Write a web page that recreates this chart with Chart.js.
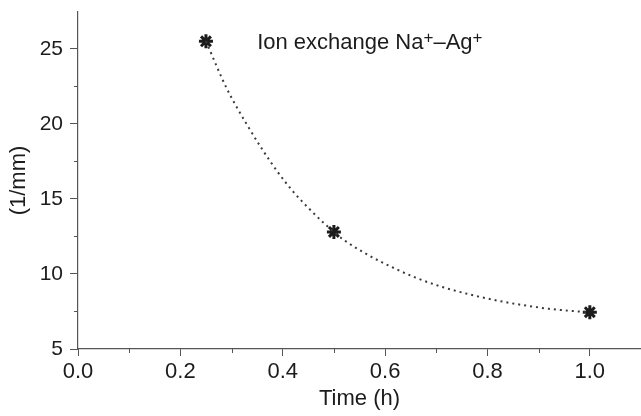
<!DOCTYPE html>
<html>
<head>
<meta charset="utf-8">
<script src="https://cdn.jsdelivr.net/npm/chart.js@4.4.1/dist/chart.umd.min.js"></script>
<style>
  html, body { margin: 0; padding: 0; background: #fff; }
  #wrap { width: 641px; height: 416px; }
</style>
</head>
<body>
<div id="wrap"><canvas id="chart" width="641" height="416"></canvas></div>
<script>
// measured points (star markers)
const timeH = [0.25, 0.5, 1.0];
const invMm = [25.5, 12.8, 7.45];

// dotted fit curve
const fitTime = [0.25, 0.29, 0.33, 0.36, 0.39, 0.42, 0.45, 0.48, 0.50, 0.52, 0.57, 0.62, 0.66, 0.71, 0.76, 0.82, 0.87, 0.92, 0.97, 1.00];
const fitValue = [25.5, 22.4, 19.95, 18.3, 16.8, 15.5, 14.4, 13.4, 12.8, 12.25, 11.2, 10.35, 9.75, 9.15, 8.68, 8.22, 7.92, 7.68, 7.52, 7.45];

// axis ticks
const xTicks = [0.0, 0.2, 0.4, 0.6, 0.8, 1.0];
const xMinor = [0.1, 0.3, 0.5, 0.7, 0.9];
const yTicks = [5, 10, 15, 20, 25];
const yMinor = [7.5, 12.5, 17.5, 22.5];

const FONT = '"Liberation Sans", Arial, Helvetica, sans-serif';
const INK = '#1c1c1c';
const AXIS = '#555';

// short minor tick marks + the label inside the plot
const extras = {
  id: 'extras',
  afterDraw(chart) {
    const ctx = chart.ctx;
    const xs = chart.scales.x, ys = chart.scales.y;
    ctx.save();
    ctx.strokeStyle = AXIS;
    ctx.lineWidth = 1;
    xMinor.forEach(v => {
      const px = Math.round(xs.getPixelForValue(v)) + 0.5;
      ctx.beginPath();
      ctx.moveTo(px, ys.bottom);
      ctx.lineTo(px, ys.bottom + 4);
      ctx.stroke();
    });
    yMinor.forEach(v => {
      const py = Math.round(ys.getPixelForValue(v)) + 0.5;
      ctx.beginPath();
      ctx.moveTo(xs.left, py);
      ctx.lineTo(xs.left - 4, py);
      ctx.stroke();
    });

    // "Ion exchange Na+–Ag+" with raised plus signs
    let x = xs.getPixelForValue(0.35);
    const y = ys.getPixelForValue(25.4);
    ctx.fillStyle = INK;
    ctx.textBaseline = 'middle';
    ctx.textAlign = 'left';
    const parts = [['Ion exchange Na', false], ['+', true], ['\u2013Ag', false], ['+', true]];
    parts.forEach(([t, sup]) => {
      ctx.font = sup ? '17px ' + FONT : '22px ' + FONT;
      ctx.fillText(t, x, sup ? y - 4 : y);
      x += ctx.measureText(t).width;
    });
    ctx.restore();
  }
};

new Chart(document.getElementById('chart'), {
  type: 'scatter',
  data: {
    datasets: [
      {
        label: 'fit',
        data: fitTime.map((t, i) => ({ x: t, y: fitValue[i] })),
        showLine: true,
        cubicInterpolationMode: 'monotone',
        borderColor: '#3a3a3a',
        borderWidth: 2,
        borderDash: [2, 4],
        pointRadius: 0
      },
      {
        label: 'Ion exchange Na+–Ag+',
        data: timeH.map((t, i) => ({ x: t, y: invMm[i] })),
        showLine: false,
        pointStyle: 'star',
        pointRadius: 7,
        borderWidth: 3,
        borderColor: INK,
        backgroundColor: INK
      }
    ]
  },
  options: {
    responsive: false,
    animation: false,
    layout: { autoPadding: false, padding: { top: 12, right: 0, left: 0, bottom: 0 } },
    plugins: { legend: { display: false }, tooltip: { enabled: false } },
    scales: {
      x: {
        type: 'linear',
        min: 0,
        max: 1.1,
        afterBuildTicks: s => { s.ticks = xTicks.map(v => ({ value: v })); },
        afterFit: s => { s.height = 67; s.paddingLeft = 0; s.paddingRight = 0; },
        grid: { drawOnChartArea: false, tickLength: 7, color: AXIS },
        border: { color: AXIS, width: 1.2 },
        ticks: {
          color: INK,
          font: { family: FONT, size: 22 },
          padding: 3,
          maxRotation: 0,
          callback: v => Number(v).toFixed(1)
        },
        title: {
          display: true,
          text: 'Time (h)',
          color: INK,
          font: { family: FONT, size: 22 },
          padding: { top: 0, bottom: 4 }
        }
      },
      y: {
        type: 'linear',
        min: 5,
        max: 27.45,
        afterBuildTicks: s => { s.ticks = yTicks.map(v => ({ value: v })); },
        afterFit: s => { s.width = 78; s.paddingTop = 0; s.paddingBottom = 0; },
        grid: { drawOnChartArea: false, tickLength: 8, color: AXIS },
        border: { color: AXIS, width: 1.2 },
        ticks: {
          color: INK,
          font: { family: FONT, size: 21 },
          padding: 7,
          callback: v => String(v)
        },
        title: {
          display: true,
          text: '(1/mm)',
          color: INK,
          font: { family: FONT, size: 22 },
          padding: { top: 6, bottom: 4 }
        }
      }
    }
  },
  plugins: [extras]
});
</script>
</body>
</html>
